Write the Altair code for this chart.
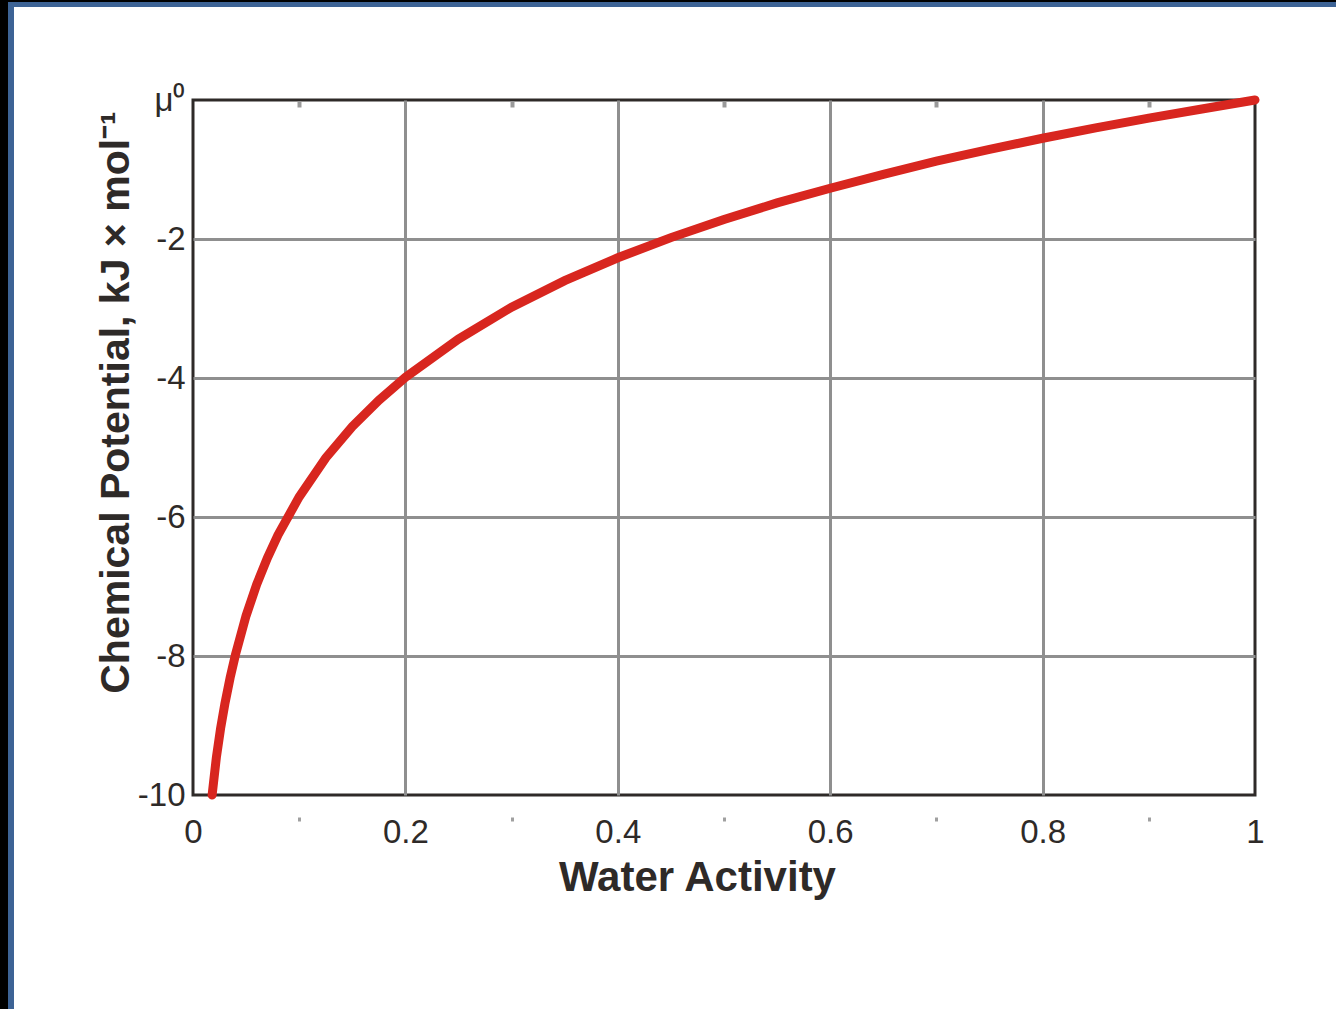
import altair as alt
import pandas as pd

# Water activity vs chemical potential (kJ/mol)
water_activity = [0.018, 0.022, 0.026, 0.03, 0.035, 0.04, 0.05, 0.06, 0.07, 0.08,
                  0.1, 0.125, 0.15, 0.175, 0.2, 0.25, 0.3, 0.35, 0.4, 0.45,
                  0.5, 0.55, 0.6, 0.65, 0.7, 0.75, 0.8, 0.85, 0.9, 0.95, 1.0]
chemical_potential = [-10.0, -9.46, -9.04, -8.69, -8.31, -7.98, -7.42, -6.97, -6.59, -6.26,
                      -5.71, -5.15, -4.70, -4.32, -3.99, -3.44, -2.98, -2.60, -2.27, -1.98,
                      -1.72, -1.48, -1.27, -1.07, -0.88, -0.71, -0.55, -0.40, -0.26, -0.13, 0.0]

x_major = [0, 0.2, 0.4, 0.6, 0.8, 1]
x_minor = [0.1, 0.3, 0.5, 0.7, 0.9]
y_major = [-10, -8, -6, -4, -2, 0]

df = pd.DataFrame({"aw": water_activity, "mu": chemical_potential})

INK = "#2e2a28"
GRID = "#8f8f8f"
FONT = "Liberation Sans"

x_scale = alt.Scale(domain=[0, 1], nice=False, zero=False)
y_scale = alt.Scale(domain=[-10, 0], nice=False, zero=False)

curve = alt.Chart(df).mark_line(color="#d8261f", strokeWidth=9, strokeCap="round").encode(
    x=alt.X("aw:Q", scale=x_scale, axis=alt.Axis(
        orient="bottom", values=x_major, title="Water Activity",
        labelExpr="'' + datum.value", labelFont=FONT, labelFontSize=33,
        labelColor=INK, labelBaseline="alphabetic", labelPadding=47,
        labelFlush=False, labelOverlap=False,
        ticks=False, tickSize=0, domain=False,
        grid=True, gridWidth=3,
        gridColor={"condition": {"test": "datum.value == 0 || datum.value == 1",
                                 "value": "transparent"}, "value": GRID},
        titleFont=FONT, titleFontSize=42, titleFontWeight="bold", titleColor=INK,
        titleX=504, titleY=95, titleBaseline="alphabetic", titleAlign="center")),
    y=alt.Y("mu:Q", scale=y_scale, axis=alt.Axis(
        orient="left", values=y_major,
        title="Chemical Potential, kJ × mol⁻¹",
        labelExpr="datum.value == 0 ? 'μ⁰' : '' + datum.value",
        labelFont=FONT, labelFontSize=33, labelColor=INK, labelPadding=8,
        labelFlush=False, labelOverlap=False,
        ticks=False, tickSize=0, domain=False,
        grid=True, gridWidth=3,
        gridColor={"condition": {"test": "datum.value == 0 || datum.value == -10",
                                 "value": "transparent"}, "value": GRID},
        titleFont=FONT, titleFontSize=41, titleFontWeight="bold", titleColor=INK,
        titleX=-65, titleY=302, titleBaseline="alphabetic", titleAlign="center",
        titleAngle=270)),
)

# minor ticks between the bottom labels
minor_bottom = alt.Chart(df).mark_point(opacity=0).encode(
    x=alt.X("aw:Q", scale=x_scale, axis=alt.Axis(
        orient="bottom", values=x_minor, labels=False, title=None, domain=False,
        grid=False, ticks=True, tickSize=4, tickWidth=3, tickColor="#a0a0a0",
        offset=22)),
)

# minor ticks just inside the top frame
minor_top = alt.Chart(df).mark_point(opacity=0).encode(
    x=alt.X("aw:Q", scale=x_scale, axis=alt.Axis(
        orient="top", values=x_minor, labels=False, title=None, domain=False,
        grid=False, ticks=True, tickSize=6, tickWidth=4, tickColor="#9a9a9a",
        offset=-7)),
)

# slide frame: dark strip and blue band on the left and top edges
one = alt.Data(values=[{}])
frame_black_left = alt.Chart(one).mark_rect(color="#000000").encode(
    x=alt.value(-193), x2=alt.value(-185), y=alt.value(-100), y2=alt.value(909))
frame_blue_left = alt.Chart(one).mark_rect(color="#3d6395").encode(
    x=alt.value(-185), x2=alt.value(-179), y=alt.value(-98), y2=alt.value(909))
frame_black_top = alt.Chart(one).mark_rect(color="#000000").encode(
    x=alt.value(-185), x2=alt.value(1143), y=alt.value(-100), y2=alt.value(-98))
frame_blue_top = alt.Chart(one).mark_rect(color="#3d6395").encode(
    x=alt.value(-185), x2=alt.value(1143), y=alt.value(-98), y2=alt.value(-93))

chart = alt.layer(
    curve, minor_bottom, minor_top,
    frame_black_left, frame_blue_left, frame_black_top, frame_blue_top,
).resolve_axis(x="independent").properties(
    width=1062, height=695,
    padding={"left": 193, "top": 100, "right": 81, "bottom": 214},
    autosize=alt.AutoSizeParams(type="none"),
    background="white",
).configure_view(stroke=INK, strokeWidth=3)

chart.save("out.html", embed_options={"renderer": "svg", "actions": False})
